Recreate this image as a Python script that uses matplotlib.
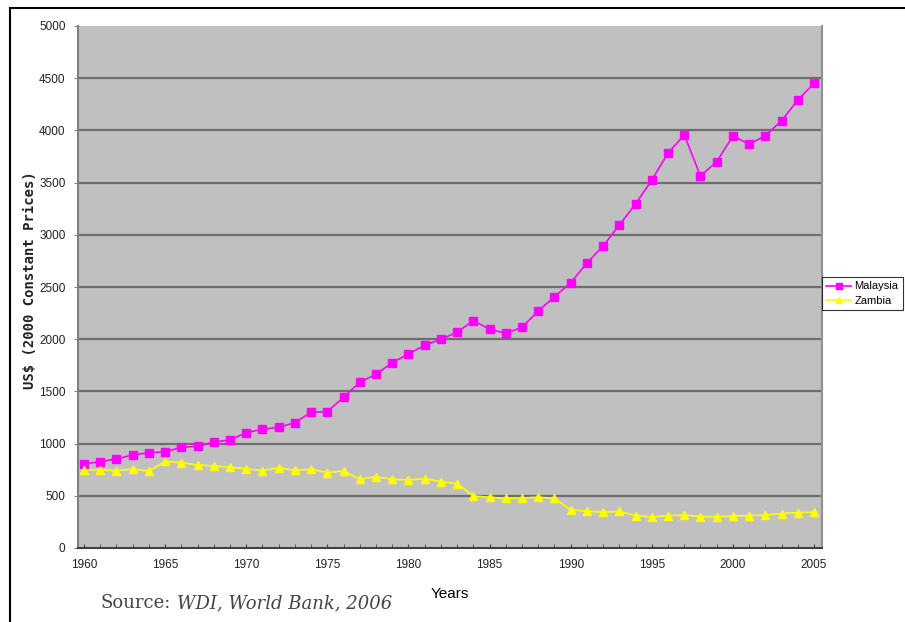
import numpy as np
import matplotlib.pyplot as plt
from matplotlib.patches import Rectangle

years = list(range(1960, 2006))

malaysia = [805, 827, 853, 891, 913, 920, 965, 974, 1015, 1035,
            1105, 1137, 1156, 1201, 1300, 1306, 1444, 1587, 1664, 1775,
            1858, 1942, 2000, 2067, 2178, 2095, 2057, 2114, 2270, 2407,
            2541, 2730, 2893, 3094, 3296, 3525, 3784, 3956, 3564, 3700,
            3947, 3867, 3950, 4093, 4292, 4450]

zambia = [747, 750, 741, 757, 735, 830, 817, 795, 786, 773,
          760, 741, 767, 744, 754, 722, 738, 658, 683, 658,
          651, 664, 635, 616, 498, 486, 475, 479, 486, 476,
          364, 354, 342, 350, 310, 297, 310, 315, 300, 300,
          305, 310, 315, 330, 340, 345]

y_ticks = list(range(0, 5001, 500))
x_ticks = list(range(1960, 2006, 5))

plt.rcParams['font.family'] = ['Liberation Sans', 'DejaVu Sans']

fig = plt.figure(figsize=(9.05, 6.22), dpi=100)
ax = fig.add_axes([78/905, 74/622, 744/905, 522/622])
ax.set_facecolor('#c0c0c0')

# frame around the whole picture
fig.patches.append(Rectangle((10/905, -0.05), 1.0, 1.05 - 8/622, transform=fig.transFigure,
                             fill=False, edgecolor='black', linewidth=1.5))

ax.plot(years, malaysia, color='#ff00ff', marker='s', markersize=6, linewidth=1.2,
        label='Malaysia', zorder=3)
ax.plot(years, zambia, color='#ffff00', marker='^', markersize=6, linewidth=1.2,
        label='Zambia', zorder=3)

ax.set_xlim(1959.63, 2005.49)
ax.set_ylim(0, 5000)
ax.set_yticks(y_ticks)
ax.set_xticks(x_ticks)
ax.set_xticks(years, minor=True)
ax.tick_params(axis='y', labelsize=8.5, length=3, color='#808080', pad=6, labelcolor='#222222')
ax.tick_params(axis='x', which='both', direction='in', length=3, color='#404040',
               labelsize=8.5, pad=8, labelcolor='#222222')

for v in y_ticks[1:-1]:
    ax.axhline(v, color='#6e6e6e', linewidth=1.6, zorder=1)

ax.spines['top'].set_visible(False)
ax.spines['left'].set_color('#808080')
ax.spines['left'].set_linewidth(1.5)
ax.spines['right'].set_color('#909090')
ax.spines['right'].set_linewidth(1.5)
ax.spines['bottom'].set_color('#404040')
ax.spines['bottom'].set_linewidth(1.5)

fig.text(30/905, 1 - 280/622, 'US$ (2000 Constant Prices)', rotation=90,
         ha='center', va='center', fontsize=10, fontweight='bold',
         family='DejaVu Sans Mono', color='#222222')
fig.text(450/905, 1 - 594/622, 'Years', ha='center', va='center', fontsize=11)
fig.text(100/905, 1 - 603/622, 'Source:', ha='left', va='center', fontsize=13,
         family='DejaVu Serif', color='#444444')
fig.text(177/905, 1 - 603/622, 'WDI, World Bank, 2006', ha='left', va='center',
         fontsize=13, family='DejaVu Serif', style='italic', color='#444444')

leg = ax.legend(loc='upper left', bbox_to_anchor=(822/905, 1 - 277/622),
                bbox_transform=fig.transFigure, fontsize=8, frameon=True,
                fancybox=False, edgecolor='black', borderaxespad=0,
                handlelength=2.2, handletextpad=0.3, borderpad=0.4,
                labelspacing=0.4, markerscale=0.8)
leg.get_frame().set_linewidth(0.8)

fig.savefig('out.png', dpi=100)
